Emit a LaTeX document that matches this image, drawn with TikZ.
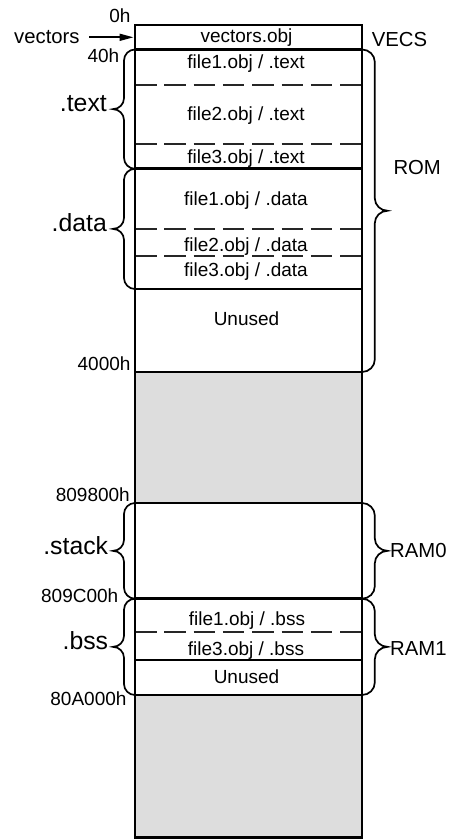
\documentclass[tikz,border=0pt]{standalone}
\usepackage{fontspec}
\setmainfont{Liberation Sans}
\usetikzlibrary{calc,arrows.meta}
\definecolor{memgray}{RGB}{221,221,221}
\begin{document}
\begin{tikzpicture}[x=1pt,y=-1pt,
  solidline/.style={line width=2.9pt,black},
  dashline/.style={line width=1.7pt,black!85,dash pattern=on 21.5pt off 7.8pt},
  bracepath/.style={line width=1.7pt,black},
  arrowline/.style={line width=1.7pt,-{Triangle[length=14pt,width=7pt]}},
  memb/.style 2 args={to path={
    (\tikztostart) .. controls +({0.55*(#1)},0) and +(0,{-0.55*(#2)}) .. ($(\tikztostart)+(#1,#2)$)
    -- ($(\tikztostart)!0.5!(\tikztotarget)+(#1,{-(#2)})$)
    .. controls +(0,{0.55*(#2)}) and +({-0.55*(#1)},0) .. ($(\tikztostart)!0.5!(\tikztotarget)+({2*(#1)},0)$)
    .. controls +({-0.55*(#1)},0) and +(0,{-0.55*(#2)}) .. ($(\tikztostart)!0.5!(\tikztotarget)+(#1,#2)$)
    -- ($(\tikztotarget)+(#1,{-(#2)})$)
    .. controls +(0,{0.55*(#2)}) and +({0.55*(#1)},0) .. (\tikztotarget)}},
  celltext/.style={font=\fontsize{19}{22}\selectfont,inner sep=0pt,anchor=base},
  addr/.style={font=\fontsize{19}{22}\selectfont,inner sep=0pt,anchor=base east},
  secl/.style={font=\fontsize{24.8}{28}\selectfont,inner sep=0pt,anchor=mid east},
  regl/.style={font=\fontsize{20.3}{24}\selectfont,inner sep=0pt,anchor=west}]
\useasboundingbox (0,0) rectangle (454,839);
% level coordinates
\foreach \n/\yy in {0/25,1/49.5,2/168.8,3/289,4/372,5/503,6/598.7,7/660,8/695,9/837.3}{
  \coordinate (L\n) at (135,\yy);
  \coordinate (R\n) at (362,\yy);
}
\foreach \n/\yy in {1/85,2/144,3/229,4/256,5/632.3}{
  \coordinate (DL\n) at (135,\yy);
  \coordinate (DR\n) at (362,\yy);
}
% unused address space
\fill[memgray] (L4) rectangle (R5);
\fill[memgray] (L8) rectangle (R9);
% dividers
\foreach \n in {1,...,5} \draw[dashline] (DL\n) -- (DR\n);
\foreach \n in {1,...,8} \draw[solidline] (L\n) -- (R\n);
\draw[solidline] (L0) rectangle (R9);
% cell texts
\node[celltext] (cvec) at (246.5,42) {vectors.obj};
\node[celltext] (ct1) at (246,68.3) {file1.obj / .text};
\node[celltext] (ct2) at (246,120.3) {file2.obj / .text};
\node[celltext] (ct3) at (246,163.6) {file3.obj / .text};
\node[celltext] (cd1) at (246,205.3) {file1.obj / .data};
\node[celltext] (cd2) at (246,251) {file2.obj / .data};
\node[celltext] (cd3) at (246,276.3) {file3.obj / .data};
\node[celltext] (cu1) at (246.5,325.3) {Unused};
\node[celltext] (cb1) at (247,625.3) {file1.obj / .bss};
\node[celltext] (cb3) at (246,655.3) {file3.obj / .bss};
\node[celltext] (cu2) at (246.5,683) {Unused};
% addresses
\node[addr] (a0) at (130.7,22.3) {0h};
\node[addr] (a40) at (119.5,62) {40h};
\node[addr] (a4000) at (130.7,370.7) {4000h};
\node[addr] (a8098) at (130,501.7) {809800h};
\node[addr] (a809C) at (118.5,602.8) {809C00h};
\node[addr] (a80A) at (126.7,705) {80A000h};
% vectors arrow
\node[font=\fontsize{20.3}{24}\selectfont,inner sep=0pt,anchor=base west] (vec) at (14,43.5) {vectors};
\coordinate (vin) at (89,37.3);
\coordinate (vout) at (133.5,37.3);
\draw[arrowline] (vin) -- (vout);
% section braces (left)
\draw[bracepath,memb={-11}{11}] (L1) to (L2);
\draw[bracepath,memb={-11}{11}] (L2) to (L3);
\draw[bracepath,memb={-11}{11}] (L5) to (L6);
\draw[bracepath,memb={-11}{11}] (L6) to (L8);
\node[secl] (stext) at (107,108.6) {.text};
\node[secl] (sdata) at (107,228.6) {.data};
\node[secl] (sstack) at (108.3,552) {.stack};
\node[secl] (sbss) at (108.3,646.6) {.bss};
% region braces (right)
\draw[bracepath,memb={12.8}{12.5}] (R1) to (R4);
\draw[bracepath,memb={12.8}{12.5}] (R5) to (R6);
\draw[bracepath,memb={12.8}{12.5}] (R6) to (R8);
\node[regl] (rvecs) at (371.7,40) {VECS};
\node[regl] (rrom) at (393.3,168) {ROM};
\node[regl] (rram0) at (390,550.8) {RAM0};
\node[regl] (rram1) at (390,648.3) {RAM1};
\end{tikzpicture}
\end{document}
